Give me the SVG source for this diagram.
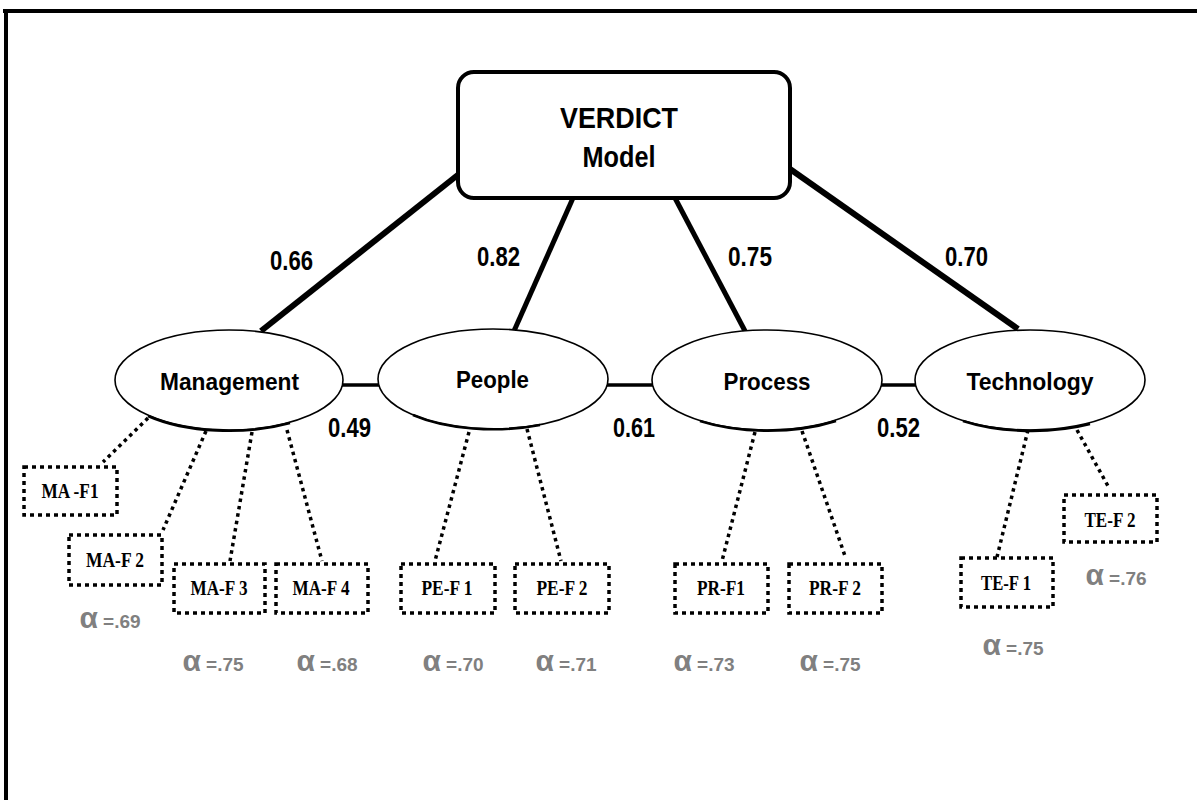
<svg xmlns="http://www.w3.org/2000/svg" width="1197" height="800" viewBox="0 0 1197 800">
<style>
.frame{stroke:#000;stroke-width:4;fill:none}
.thick{stroke:#000;stroke-width:5;stroke-linecap:butt;fill:none}
.heavy{stroke-width:6}
.link{stroke:#000;stroke-width:3.5;fill:none}
.dot{stroke:#000;stroke-width:3.5;stroke-dasharray:3.5 4;fill:none}
.ell{fill:#fff;stroke:#000;stroke-width:1.6}
.shade{fill:none;stroke:#000;stroke-width:2.6}
.fbox{fill:#fff;stroke:#000;stroke-width:3.5;stroke-dasharray:4 4}
.sans{font-family:"Liberation Sans",Arial,sans-serif;font-weight:bold;fill:#000}
.serif{font-family:"Liberation Serif","Times New Roman",serif;font-weight:bold;font-size:20px;fill:#000}
.num{font-size:28px}
.lab{font-size:24px}
.alpha{font-family:"Liberation Sans",Arial,sans-serif;font-weight:bold;fill:#808080}
.a1{font-size:30px}
.a2{font-size:19px}
</style>
<rect width="1197" height="800" fill="#fff"/>
<g id="frame">
<line class="frame" x1="3" y1="11" x2="1197" y2="11"/>
<line class="frame" x1="6" y1="9" x2="6" y2="800"/>
</g>
<g id="connectors">
<line class="thick heavy" x1="459" y1="174" x2="261" y2="331"/>
<line class="thick" x1="573" y1="198" x2="514" y2="331"/>
<line class="thick" x1="675" y1="198" x2="745" y2="331"/>
<line class="thick heavy" x1="790" y1="169" x2="1018" y2="329"/>
<line class="link" x1="342" y1="385" x2="379" y2="385"/>
<line class="link" x1="607" y1="385" x2="654" y2="385"/>
<line class="link" x1="881" y1="385" x2="916" y2="385"/>
<line class="dot" x1="148" y1="418" x2="103" y2="462"/>
<line class="dot" x1="206" y1="431" x2="163" y2="530"/>
<line class="dot" x1="252" y1="432" x2="230" y2="561"/>
<line class="dot" x1="287" y1="430" x2="322" y2="561"/>
<line class="dot" x1="469" y1="432" x2="435" y2="561"/>
<line class="dot" x1="527" y1="429" x2="561" y2="561"/>
<line class="dot" x1="755" y1="432" x2="722" y2="561"/>
<line class="dot" x1="802" y1="431" x2="845" y2="556"/>
<line class="dot" x1="1028" y1="430" x2="997" y2="557"/>
<line class="dot" x1="1077" y1="430" x2="1108" y2="486"/>
<g class="sans num">
<text x="270" y="270" textLength="43" lengthAdjust="spacingAndGlyphs">0.66</text>
<text x="477" y="266" textLength="43" lengthAdjust="spacingAndGlyphs">0.82</text>
<text x="728" y="266" textLength="44" lengthAdjust="spacingAndGlyphs">0.75</text>
<text x="945" y="266" textLength="43" lengthAdjust="spacingAndGlyphs">0.70</text>
<text x="328" y="437" textLength="43" lengthAdjust="spacingAndGlyphs">0.49</text>
<text x="613" y="437" textLength="42" lengthAdjust="spacingAndGlyphs">0.61</text>
<text x="877" y="437" textLength="43" lengthAdjust="spacingAndGlyphs">0.52</text>
</g>
</g>
<g id="verdict">
<rect x="458" y="72" width="332" height="126" rx="16" fill="#fff" stroke="#000" stroke-width="4"/>
<text class="sans" x="619" y="128" font-size="30" text-anchor="middle" textLength="118" lengthAdjust="spacingAndGlyphs">VERDICT</text>
<text class="sans" x="619" y="167" font-size="30" text-anchor="middle" textLength="73" lengthAdjust="spacingAndGlyphs">Model</text>
</g>
<g id="management">
<ellipse class="ell" cx="229" cy="380" rx="114" ry="50"/>
<path class="shade" d="M 148 416 A 114 50 0 0 0 290 423"/>
<text class="sans lab" x="229.5" y="390" text-anchor="middle" textLength="139" lengthAdjust="spacingAndGlyphs">Management</text>
</g>
<g id="people">
<ellipse class="ell" cx="493" cy="379" rx="115" ry="50"/>
<path class="shade" d="M 413 415 A 115 50 0 0 0 540 425"/>
<text class="sans lab" x="492.5" y="388" text-anchor="middle" textLength="73" lengthAdjust="spacingAndGlyphs">People</text>
</g>
<g id="process">
<ellipse class="ell" cx="767" cy="380" rx="115" ry="50"/>
<path class="shade" d="M 700 421 A 115 50 0 0 0 836 421"/>
<text class="sans lab" x="767" y="390" text-anchor="middle" textLength="87" lengthAdjust="spacingAndGlyphs">Process</text>
</g>
<g id="technology">
<ellipse class="ell" cx="1030" cy="380" rx="115" ry="50"/>
<path class="shade" d="M 963 421 A 115 50 0 0 0 1090 424"/>
<text class="sans lab" x="1030" y="390" text-anchor="middle" textLength="127" lengthAdjust="spacingAndGlyphs">Technology</text>
</g>
<g id="ma-f1">
<rect class="fbox" x="24" y="467" width="93" height="48"/>
<text class="serif" x="70" y="498" text-anchor="middle" textLength="57" lengthAdjust="spacingAndGlyphs">MA -F1</text>
</g>
<g id="ma-f2">
<rect class="fbox" x="69" y="535" width="93" height="50"/>
<text class="serif" x="115" y="567" text-anchor="middle" textLength="58" lengthAdjust="spacingAndGlyphs">MA-F 2</text>
<text class="alpha" x="110" y="628" text-anchor="middle"><tspan class="a1">α</tspan><tspan class="a2"> =.69</tspan></text>
</g>
<g id="ma-f3">
<rect class="fbox" x="174" y="564" width="91" height="49"/>
<text class="serif" x="219" y="595" text-anchor="middle" textLength="57" lengthAdjust="spacingAndGlyphs">MA-F 3</text>
<text class="alpha" x="213" y="671" text-anchor="middle"><tspan class="a1">α</tspan><tspan class="a2"> =.75</tspan></text>
</g>
<g id="ma-f4">
<rect class="fbox" x="276" y="564" width="92" height="49"/>
<text class="serif" x="321" y="595" text-anchor="middle" textLength="57" lengthAdjust="spacingAndGlyphs">MA-F 4</text>
<text class="alpha" x="327" y="671" text-anchor="middle"><tspan class="a1">α</tspan><tspan class="a2"> =.68</tspan></text>
</g>
<g id="pe-f1">
<rect class="fbox" x="401" y="564" width="94" height="49"/>
<text class="serif" x="447" y="595" text-anchor="middle" textLength="51" lengthAdjust="spacingAndGlyphs">PE-F 1</text>
<text class="alpha" x="453" y="671" text-anchor="middle"><tspan class="a1">α</tspan><tspan class="a2"> =.70</tspan></text>
</g>
<g id="pe-f2">
<rect class="fbox" x="515" y="564" width="94" height="49"/>
<text class="serif" x="562" y="595" text-anchor="middle" textLength="51" lengthAdjust="spacingAndGlyphs">PE-F 2</text>
<text class="alpha" x="566" y="671" text-anchor="middle"><tspan class="a1">α</tspan><tspan class="a2"> =.71</tspan></text>
</g>
<g id="pr-f1">
<rect class="fbox" x="675" y="564" width="93" height="49"/>
<text class="serif" x="721" y="595" text-anchor="middle" textLength="48" lengthAdjust="spacingAndGlyphs">PR-F1</text>
<text class="alpha" x="704" y="671" text-anchor="middle"><tspan class="a1">α</tspan><tspan class="a2"> =.73</tspan></text>
</g>
<g id="pr-f2">
<rect class="fbox" x="789" y="564" width="93" height="49"/>
<text class="serif" x="835" y="595" text-anchor="middle" textLength="52" lengthAdjust="spacingAndGlyphs">PR-F 2</text>
<text class="alpha" x="830" y="671" text-anchor="middle"><tspan class="a1">α</tspan><tspan class="a2"> =.75</tspan></text>
</g>
<g id="te-f1">
<rect class="fbox" x="961" y="558" width="92" height="49"/>
<text class="serif" x="1006" y="590" text-anchor="middle" textLength="50" lengthAdjust="spacingAndGlyphs">TE-F 1</text>
<text class="alpha" x="1013" y="655" text-anchor="middle"><tspan class="a1">α</tspan><tspan class="a2"> =.75</tspan></text>
</g>
<g id="te-f2">
<rect class="fbox" x="1064" y="495" width="93" height="47"/>
<text class="serif" x="1110" y="527" text-anchor="middle" textLength="51" lengthAdjust="spacingAndGlyphs">TE-F 2</text>
<text class="alpha" x="1116" y="585" text-anchor="middle"><tspan class="a1">α</tspan><tspan class="a2"> =.76</tspan></text>
</g>
</svg>
